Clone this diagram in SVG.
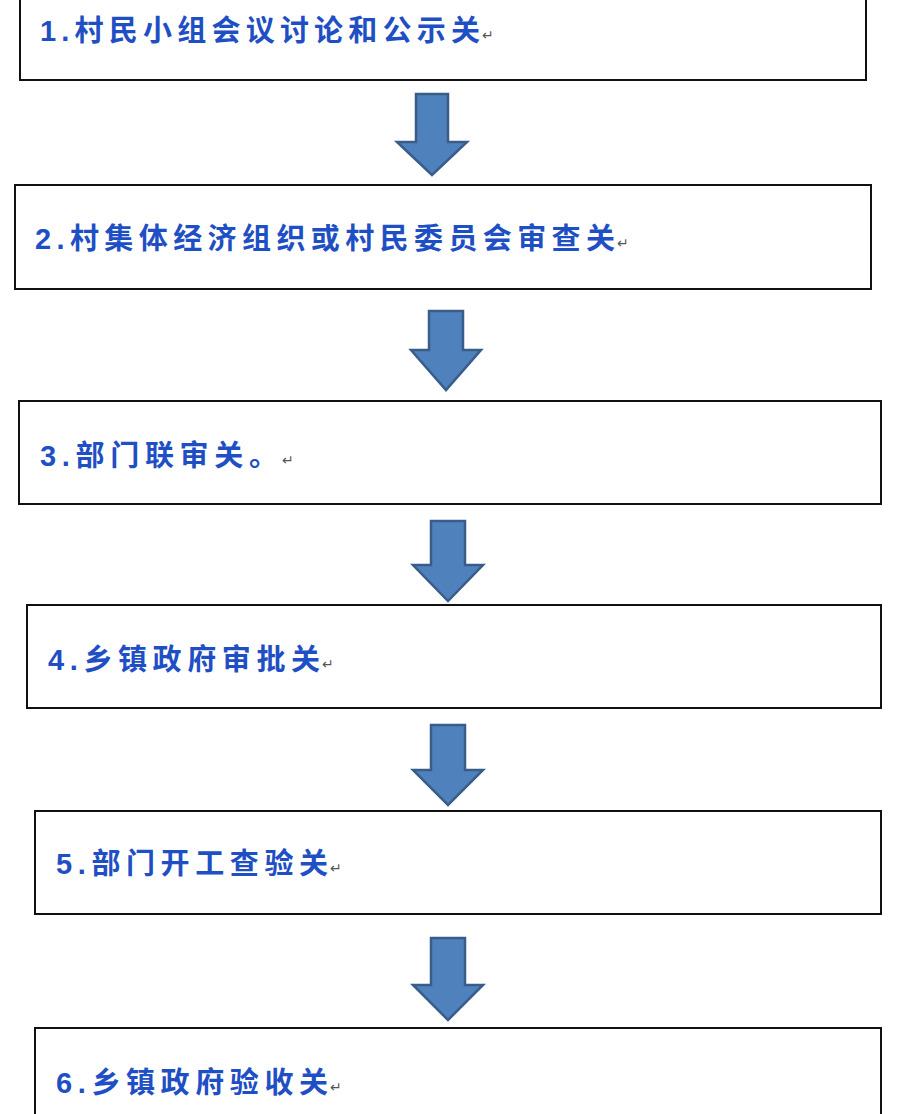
<svg xmlns="http://www.w3.org/2000/svg" width="918" height="1114" viewBox="0 0 918 1114">
<defs><style>
.b{fill:#fff;stroke:#111;stroke-width:2}
.t{font-family:"Liberation Sans","Noto Sans CJK SC",sans-serif;font-weight:bold;font-size:29px;fill:#1f4fc4}
.m{font-family:"Liberation Sans",sans-serif;font-size:14px;fill:#555}
.a{fill:#4f81bd;stroke:#385d8a;stroke-width:2.5;stroke-linejoin:miter}
</style></defs>
<rect width="918" height="1114" fill="#fff"/>
<g id="n1"><rect class="b" x="20" y="-5" width="846" height="85"/><text class="t" x="40" y="41" textLength="440" lengthAdjust="spacing">1.村民小组会议讨论和公示关</text><text class="m" x="482" y="40">↵</text></g>
<g id="n2"><rect class="b" x="15" y="185" width="856" height="104"/><text class="t" x="35" y="249" textLength="580" lengthAdjust="spacing">2.村集体经济组织或村民委员会审查关</text><text class="m" x="617" y="248">↵</text></g>
<g id="n3"><rect class="b" x="19" y="401" width="862" height="103"/><text class="t" x="40" y="466" textLength="238" lengthAdjust="spacing">3.部门联审关。</text><text class="m" x="282" y="465">↵</text></g>
<g id="n4"><rect class="b" x="27" y="605" width="854" height="103"/><text class="t" x="48" y="670" textLength="272" lengthAdjust="spacing">4.乡镇政府审批关</text><text class="m" x="322" y="669">↵</text></g>
<g id="n5"><rect class="b" x="35" y="811" width="846" height="103"/><text class="t" x="56" y="874" textLength="272" lengthAdjust="spacing">5.部门开工查验关</text><text class="m" x="330" y="873">↵</text></g>
<g id="n6"><rect class="b" x="35" y="1028" width="846" height="100"/><text class="t" x="56" y="1093" textLength="272" lengthAdjust="spacing">6.乡镇政府验收关</text><text class="m" x="330" y="1092">↵</text></g>
<g id="connectors">
<polygon class="a" points="416,94 448,94 448,142 467,142 432,175 397,142 416,142"/>
<polygon class="a" points="429,311 463,311 463,350 481,350 446,390 411,350 429,350"/>
<polygon class="a" points="431,521 465,521 465,565 483,565 448,601 413,565 431,565"/>
<polygon class="a" points="431,725 465,725 465,770 483,770 448,805 413,770 431,770"/>
<polygon class="a" points="431,938 465,938 465,985 483,985 448,1020 413,985 431,985"/>
</g>
</svg>
